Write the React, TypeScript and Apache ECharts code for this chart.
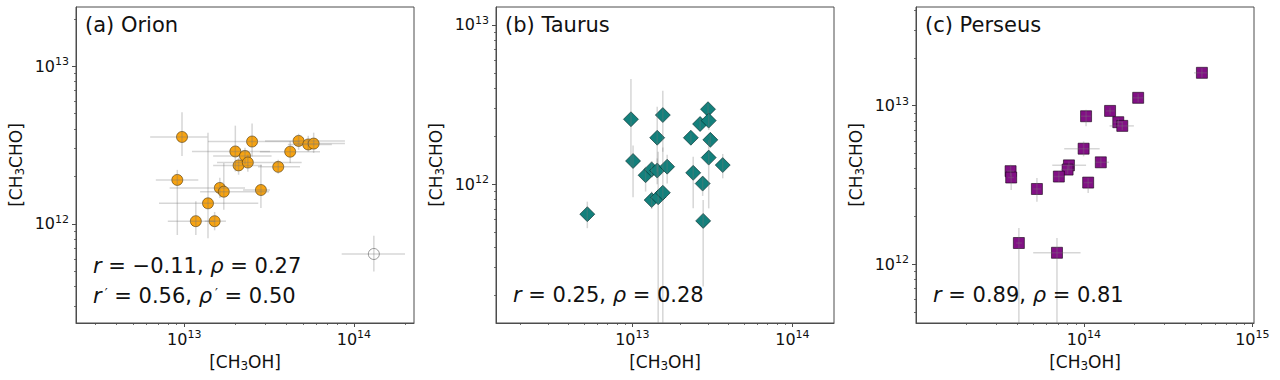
import React, { useEffect, useRef } from "react";
import * as echarts from "echarts";

// ---------------- data ----------------
// (a) Orion
const orionCH3OH = [9.7e12, 9.1e12, 1.17e13, 1.51e13, 1.38e13, 1.62e13, 1.71e13, 2.0e13, 2.28e13, 2.09e13, 2.37e13, 2.51e13, 2.83e13, 3.58e13, 4.21e13, 4.72e13, 5.38e13, 5.79e13];
const orionCH3CHO = [3.56e12, 1.9e12, 1.04e12, 1.04e12, 1.35e12, 1.69e12, 1.6e12, 2.88e12, 2.7e12, 2.35e12, 2.45e12, 3.33e12, 1.64e12, 2.3e12, 2.87e12, 3.36e12, 3.19e12, 3.23e12];
const orionXLo = [6.3e12, 6.8e12, 8.0e12, 1.32e13, 7.1e12, 8.2e12, 1.24e13, 1.11e13, 1.48e13, 1.48e13, 1.56e13, 1.38e13, 2.22e13, 2.72e13, 2.79e13, 2.99e13, 4.08e13, 4.49e13];
const orionXHi = [1.37e13, 1.21e13, 1.52e13, 1.76e13, 2.73e13, 2.28e13, 3.16e13, 3.2e13, 3.27e13, 2.87e13, 4.92e13, 4.81e13, 3.2e13, 4.81e13, 6.31e13, 8.85e13, 7.41e13, 8.85e13];
const orionYLo = [2.7e12, 8.5e11, 8.5e11, 9.1e11, 8.1e11, 1.46e12, 1.23e12, 2.15e12, 2.4e12, 2.05e12, 2.14e12, 2.68e12, 1.26e12, 2.08e12, 2.43e12, 2.95e12, 2.87e12, 2.82e12];
const orionYHi = [5.1e12, 2.2e12, 1.39e12, 1.19e12, 3.78e12, 1.96e12, 2.43e12, 4.2e12, 3.04e12, 2.63e12, 2.75e12, 4.33e12, 2.37e12, 2.55e12, 3.34e12, 3.73e12, 3.62e12, 3.79e12];
// (a) Orion outlier (open circle)
const outlierCH3OH = [1.31e14];
const outlierCH3CHO = [6.44e11];
const outlierXLo = [8.47e13];
const outlierXHi = [2.0e14];
const outlierYLo = [4.98e11];
const outlierYHi = [8.4e11];

// (b) Taurus
const taurusCH3OH = [9.8e12, 1.01e13, 5.23e12, 1.55e13, 1.43e13, 1.21e13, 1.32e13, 1.43e13, 1.65e13, 1.32e13, 1.45e13, 1.55e13, 2.32e13, 2.65e13, 2.97e13, 3.0e13, 3.07e13, 3.0e13, 3.67e13, 2.4e13, 2.75e13, 2.77e13];
const taurusCH3CHO = [2.56e12, 1.4e12, 6.49e11, 2.72e12, 1.96e12, 1.14e12, 1.24e12, 1.22e12, 1.29e12, 7.96e11, 8.28e11, 8.85e11, 1.96e12, 2.39e12, 2.96e12, 2.51e12, 1.9e12, 1.47e12, 1.32e12, 1.18e12, 1.01e12, 5.89e11];
const taurusYLo = [1.3e12, 8.28e11, 5.3e11, 1.6e12, 1.2e12, 9.0e11, 1.1e12, 1.0e12, 1.01e12, 7.0e11, 3e10, 3e10, 1.8e12, 2.2e12, 2.75e12, 2.19e12, 1.75e12, 7.06e11, 1.09e12, 7.06e11, 8.45e11, 2.28e11];
const taurusYHi = [4.58e12, 1.75e12, 7.78e11, 3.87e12, 3.07e12, 1.29e12, 1.4e12, 1.45e12, 1.53e12, 9.0e11, 1.6e12, 1.7e12, 2.1e12, 2.6e12, 3.2e12, 2.81e12, 2.05e12, 1.9e12, 1.55e12, 1.49e12, 1.13e12, 7.96e11];

// (c) Perseus
const perseusCH3OH = [5.02e14, 2.1e14, 1.43e14, 1.03e14, 1.6e14, 1.69e14, 9.96e13, 1.26e14, 8.15e13, 8.0e13, 7.1e13, 1.06e14, 3.67e13, 3.7e13, 5.26e13, 4.11e13, 6.92e13];
const perseusCH3CHO = [1.61e13, 1.12e13, 9.26e12, 8.57e12, 7.86e12, 7.45e12, 5.35e12, 4.39e12, 4.2e12, 3.95e12, 3.57e12, 3.27e12, 3.86e12, 3.52e12, 2.98e12, 1.36e12, 1.18e12];
const perseusXLo = [4.51e14, 1.95e14, 1.35e14, 9.6e13, 1.5e14, 1.42e14, 7.64e13, 1.17e14, 6.49e13, 7.3e13, 6.6e13, 1.0e14, 3.5e13, 3.55e13, 5.0e13, 3.95e13, 5.0e13];
const perseusXHi = [5.38e14, 2.25e14, 1.52e14, 1.1e14, 1.7e14, 1.98e14, 1.24e14, 1.41e14, 1.03e14, 8.8e13, 7.6e13, 1.12e14, 3.85e13, 3.85e13, 5.55e13, 4.3e13, 9.55e13];
const perseusYLo = [1.5e13, 1.05e13, 8.8e12, 7.4e12, 7.4e12, 7.0e12, 4.79e12, 4.1e12, 3.95e12, 3.7e12, 3.3e12, 2.81e12, 3.6e12, 2.94e12, 2.48e12, 3e10, 3e10];
const perseusYHi = [1.72e13, 1.19e13, 9.7e12, 9.43e12, 8.3e12, 7.9e12, 5.94e12, 4.7e12, 4.45e12, 4.2e12, 3.85e12, 3.49e12, 4.24e12, 3.75e12, 3.49e12, 1.69e12, 1.46e12];

// axis limits (log10 of the column densities)
const orionXRange = [12.362, 14.354];
const orionYRange = [11.371, 13.376];
const taurusXRange = [12.148, 14.26];
const taurusYRange = [11.129, 13.113];
const perseusXRange = [13.003, 15.01];
const perseusYRange = [11.629, 13.622];

const titles = ["(a) Orion", "(b) Taurus", "(c) Perseus"];
const statsLine1 = ["{i|r} = −0.11, {i|ρ} = 0.27", "{i|r} = 0.25, {i|ρ} = 0.28", "{i|r} = 0.89, {i|ρ} = 0.81"];
const statsLine2 = ["{i|r}{p|′} = 0.56, {i|ρ}{p|′} = 0.50", "", ""];

// ---------------- styles ----------------
const FONT = "DejaVu Sans";
const SPINE = "#4d4d4d";
const ERR = "rgba(120,120,120,0.3)";

const L = Math.log10;

const majorTicks = (r: number[]) => {
  const out: number[] = [];
  for (let n = Math.ceil(r[0]); n <= Math.floor(r[1]); n++) out.push(n);
  return out;
};
const minorTicks = (r: number[]) => {
  const out: number[] = [];
  for (let n = Math.floor(r[0]); n <= Math.ceil(r[1]); n++) {
    for (let k = 2; k <= 9; k++) {
      const v = n + Math.log10(k);
      if (v > r[0] && v < r[1]) out.push(v);
    }
  }
  return out;
};

const tickRich = {
  b: { fontSize: 16, lineHeight: 20, fontFamily: FONT, color: "#111" },
  s: { fontSize: 11, lineHeight: 10, verticalAlign: "top", fontFamily: FONT, color: "#111" },
};
const nameRich = {
  b: { fontSize: 17, lineHeight: 20, fontFamily: FONT, color: "#111" },
  sub: { fontSize: 12, lineHeight: 9, verticalAlign: "bottom", fontFamily: FONT, color: "#111" },
};

const toPts = (xs: number[], ys: number[]) => xs.map((x, i) => [L(x), L(ys[i])]);
const toErr = (
  xs: number[], ys: number[],
  xl: number[] | null, xh: number[] | null,
  yl: number[], yh: number[]
) => xs.map((x, i) => [L(x), L(ys[i]), L(xl ? xl[i] : x), L(xh ? xh[i] : x), L(yl[i]), L(yh[i])]);

const errRender = (params: any, api: any) => {
  const cs = params.coordSys;
  const x0 = cs.x, x1 = cs.x + cs.width, y0 = cs.y, y1 = cs.y + cs.height;
  const cx = (v: number) => Math.max(x0, Math.min(x1, v));
  const cy = (v: number) => Math.max(y0, Math.min(y1, v));
  const x = api.value(0), y = api.value(1);
  const a = api.coord([api.value(2), y]);
  const b = api.coord([api.value(3), y]);
  const c = api.coord([x, api.value(4)]);
  const d = api.coord([x, api.value(5)]);
  const style = { stroke: ERR, lineWidth: 1.5, fill: null };
  const children: any[] = [];
  if (b[0] - a[0] > 0.5)
    children.push({ type: "line", shape: { x1: cx(a[0]), y1: a[1], x2: cx(b[0]), y2: b[1] }, style });
  if (c[1] - d[1] > 0.5)
    children.push({ type: "line", shape: { x1: c[0], y1: cy(c[1]), x2: d[0], y2: cy(d[1]) }, style });
  return { type: "group", children };
};

const GRID_TOP = 7;
const GRID_H = 316;
const GRID_W = 338;
const gridLefts = [76, 496, 916];

export default function App() {
  const ref = useRef<HTMLDivElement>(null);

  useEffect(() => {
    if (!ref.current) return;
    const chart = echarts.init(ref.current, null, { renderer: "svg" });

    const xRanges = [orionXRange, taurusXRange, perseusXRange];
    const yRanges = [orionYRange, taurusYRange, perseusYRange];

    const grid = gridLefts.map((left) => ({
      left, top: GRID_TOP, width: GRID_W, height: GRID_H,
      show: true, borderColor: SPINE, borderWidth: 1, backgroundColor: "transparent",
    }));

    const nameStyle = { rich: nameRich, fontFamily: FONT, fontSize: 17, lineHeight: 20, color: "#111" };

    const xAxis: any[] = [];
    const yAxis: any[] = [];
    for (let g = 0; g < 3; g++) {
      const xr = xRanges[g], yr = yRanges[g];
      xAxis.push({
        type: "value", gridIndex: g, min: xr[0], max: xr[1], position: "bottom",
        name: "{b|[CH}{sub|3}{b|OH]}", nameLocation: "middle", nameGap: 28,
        nameTextStyle: nameStyle,
        axisLine: { show: true, onZero: false, lineStyle: { color: SPINE, width: 1 } },
        axisTick: { show: true, length: 4, customValues: majorTicks(xr), lineStyle: { color: SPINE, width: 1 } },
        axisLabel: {
          show: true, customValues: majorTicks(xr), margin: 6,
          formatter: (v: number) => `{b|10}{s|${Math.round(v)}}`, rich: tickRich,
        },
        splitLine: { show: false },
      });
      xAxis.push({
        type: "value", gridIndex: g, min: xr[0], max: xr[1], position: "bottom",
        axisLine: { show: false, onZero: false },
        axisTick: { show: true, length: 2, customValues: minorTicks(xr), lineStyle: { color: SPINE, width: 0.8 } },
        axisLabel: { show: false },
        splitLine: { show: false },
      });
      yAxis.push({
        type: "value", gridIndex: g, min: yr[0], max: yr[1], position: "left",
        name: "{b|[CH}{sub|3}{b|CHO]}", nameLocation: "middle", nameGap: 50, nameRotate: 90,
        nameTextStyle: nameStyle,
        axisLine: { show: true, onZero: false, lineStyle: { color: SPINE, width: 1 } },
        axisTick: { show: true, length: 4, customValues: majorTicks(yr), lineStyle: { color: SPINE, width: 1 } },
        axisLabel: {
          show: true, customValues: majorTicks(yr), margin: 7,
          formatter: (v: number) => `{b|10}{s|${Math.round(v)}}`, rich: tickRich,
        },
        splitLine: { show: false },
      });
      yAxis.push({
        type: "value", gridIndex: g, min: yr[0], max: yr[1], position: "left",
        axisLine: { show: false, onZero: false },
        axisTick: { show: true, length: 2, customValues: minorTicks(yr), lineStyle: { color: SPINE, width: 0.8 } },
        axisLabel: { show: false },
        splitLine: { show: false },
      });
    }

    const errSeries = (g: number, data: number[][]) => ({
      type: "custom", xAxisIndex: g * 2, yAxisIndex: g * 2, z: 5,
      renderItem: errRender, encode: { x: 0, y: 1 }, data, silent: true,
    });

    const series: any[] = [
      {
        type: "scatter", xAxisIndex: 0, yAxisIndex: 0, z: 3, symbol: "circle", symbolSize: 11,
        itemStyle: { color: "#f7a311", borderColor: "rgba(70,45,0,0.75)", borderWidth: 0.8, opacity: 1 },
        data: toPts(orionCH3OH, orionCH3CHO),
      },
      {
        type: "scatter", xAxisIndex: 0, yAxisIndex: 0, z: 3, symbol: "circle", symbolSize: 11,
        itemStyle: { color: "rgba(255,255,255,0)", borderColor: "#808080", borderWidth: 1 },
        data: toPts(outlierCH3OH, outlierCH3CHO),
      },
      errSeries(0, toErr(orionCH3OH, orionCH3CHO, orionXLo, orionXHi, orionYLo, orionYHi)),
      errSeries(0, toErr(outlierCH3OH, outlierCH3CHO, outlierXLo, outlierXHi, outlierYLo, outlierYHi)),
      {
        type: "scatter", xAxisIndex: 2, yAxisIndex: 2, z: 3, symbol: "diamond", symbolSize: 15,
        itemStyle: { color: "#13807c", borderColor: "rgba(0,30,30,0.7)", borderWidth: 0.8, opacity: 1 },
        data: toPts(taurusCH3OH, taurusCH3CHO),
      },
      errSeries(1, toErr(taurusCH3OH, taurusCH3CHO, null, null, taurusYLo, taurusYHi)),
      {
        type: "scatter", xAxisIndex: 4, yAxisIndex: 4, z: 3, symbol: "rect", symbolSize: 11,
        itemStyle: { color: "#821085", borderColor: "rgba(20,0,20,0.6)", borderWidth: 1, opacity: 1 },
        data: toPts(perseusCH3OH, perseusCH3CHO),
      },
      errSeries(2, toErr(perseusCH3OH, perseusCH3CHO, perseusXLo, perseusXHi, perseusYLo, perseusYHi)),
    ];

    const statRich = {
      i: { fontStyle: "italic", fontSize: 21, fontFamily: FONT, color: "#111" },
      p: { fontSize: 13, lineHeight: 13, verticalAlign: "top", fontFamily: FONT, color: "#111", padding: [0, 0, 0, 3] },
    };
    const graphic: any[] = [];
    for (let g = 0; g < 3; g++) {
      const left = gridLefts[g];
      graphic.push({
        type: "text", x: left + 9, y: 25, z: 10,
        style: { text: titles[g], fontFamily: FONT, fontSize: 21, fill: "#111", verticalAlign: "middle", align: "left" },
      });
      const lines = statsLine2[g] ? [statsLine1[g], statsLine2[g]] : [statsLine1[g]];
      const ys = lines.length === 2 ? [266, 296] : [295];
      lines.forEach((t, k) => {
        graphic.push({
          type: "text", x: left + 17, y: ys[k], z: 10,
          style: {
            text: t, fontFamily: FONT, fontSize: 21, fill: "#111",
            verticalAlign: "middle", align: "left", rich: statRich,
          },
        });
      });
    }

    chart.setOption({
      animation: false,
      backgroundColor: "#ffffff",
      textStyle: { fontFamily: FONT },
      grid, xAxis, yAxis, series, graphic,
    });

    return () => chart.dispose();
  }, []);

  return (
    <div
      ref={ref}
      style={{ position: "absolute", left: 0, top: 0, width: 1280, height: 380, background: "#fff" }}
    />
  );
}
